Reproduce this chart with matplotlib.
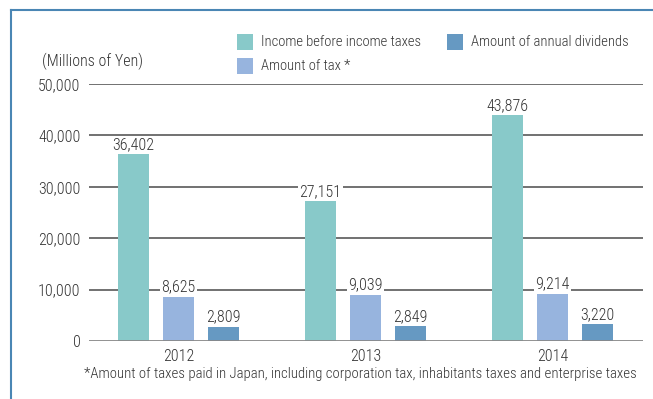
import matplotlib
matplotlib.use("Agg")
import matplotlib.pyplot as plt
from matplotlib.lines import Line2D
from matplotlib.patches import Rectangle
import numpy as np

years = ["2012", "2013", "2014"]
income = [36402, 27151, 43876]
tax = [8625, 9039, 9214]
dividends = [2809, 2849, 3220]
series_names = ["Income before income taxes", "Amount of tax *", "Amount of annual dividends"]
colors = ["#88C9C9", "#97B4DE", "#6699C2"]
yticks = [0, 10000, 20000, 30000, 40000, 50000]

plt.rcParams['font.family'] = ['Roboto Condensed', 'DejaVu Sans']
plt.rcParams['font.weight'] = 300
txt = "#333333"
fs = 11.5

W, H = 653, 399
fig = plt.figure(figsize=(W/100, H/100), dpi=100)
ax = fig.add_axes([89/W, 1-341/H, (643-89)/W, (341-84)/H])

x = np.arange(len(years))
bw = 0.166
off = 0.241
for i, (vals, c) in enumerate(zip([income, tax, dividends], colors)):
    bars = ax.bar(x + (i-1)*off, vals, bw, color=c, zorder=3)
    for b, v in zip(bars, vals):
        ax.annotate(f"{v:,}", (b.get_x()+b.get_width()/2, v), xytext=(0, 1.5),
                    textcoords="offset points", ha="center", va="bottom",
                    fontsize=fs, color=txt, zorder=4,
                    bbox=dict(boxstyle="square,pad=0.08", fc="white", ec="none"))

ax.set_xlim(-0.479, 2.484)
ax.set_ylim(0, 50000)
ax.set_yticks(yticks)
ax.set_yticklabels([f"{t:,}" for t in yticks])
for t in yticks[1:]:
    ax.axhline(t, color="#4a4a4a", lw=1.1, zorder=1)
ax.axhline(0, color="#888888", lw=2, zorder=5)
ax.set_xticks(x)
ax.set_xticklabels(years)
ax.tick_params(axis="both", length=0, labelsize=fs, colors=txt)
ax.tick_params(axis="y", pad=6)
ax.tick_params(axis="x", pad=6)
for s in ax.spines.values():
    s.set_visible(False)

fig.text(42/W, 1-61/H, "(Millions of Yen)", fontsize=fs, color=txt, ha="left", va="center")
fig.text(360/W, 1-374/H, "*Amount of taxes paid in Japan, including corporation tax, inhabitants taxes and enterprise taxes",
         fontsize=10.6, color=txt, ha="center", va="center")

# legend
leg = [(237, 42, 0), (237, 66, 1), (447, 42, 2)]
for lx, ly, k in leg:
    fig.add_artist(Rectangle((lx/W, 1-(ly+8)/H), 16/W, 16/H, transform=fig.transFigure,
                             fc=colors[k], ec="none"))
    fig.text((lx+24)/W, 1-ly/H, series_names[k], fontsize=10.55, color=txt, ha="left", va="center")

# frame
fig.add_artist(Line2D([11/W, 11/W], [1-10/H, 0], transform=fig.transFigure, color="#4A86B4", lw=1.5))
fig.add_artist(Line2D([11/W, 1], [1-10/H, 1-10/H], transform=fig.transFigure, color="#4A86B4", lw=1.5))

fig.savefig("out.png", dpi=100)
